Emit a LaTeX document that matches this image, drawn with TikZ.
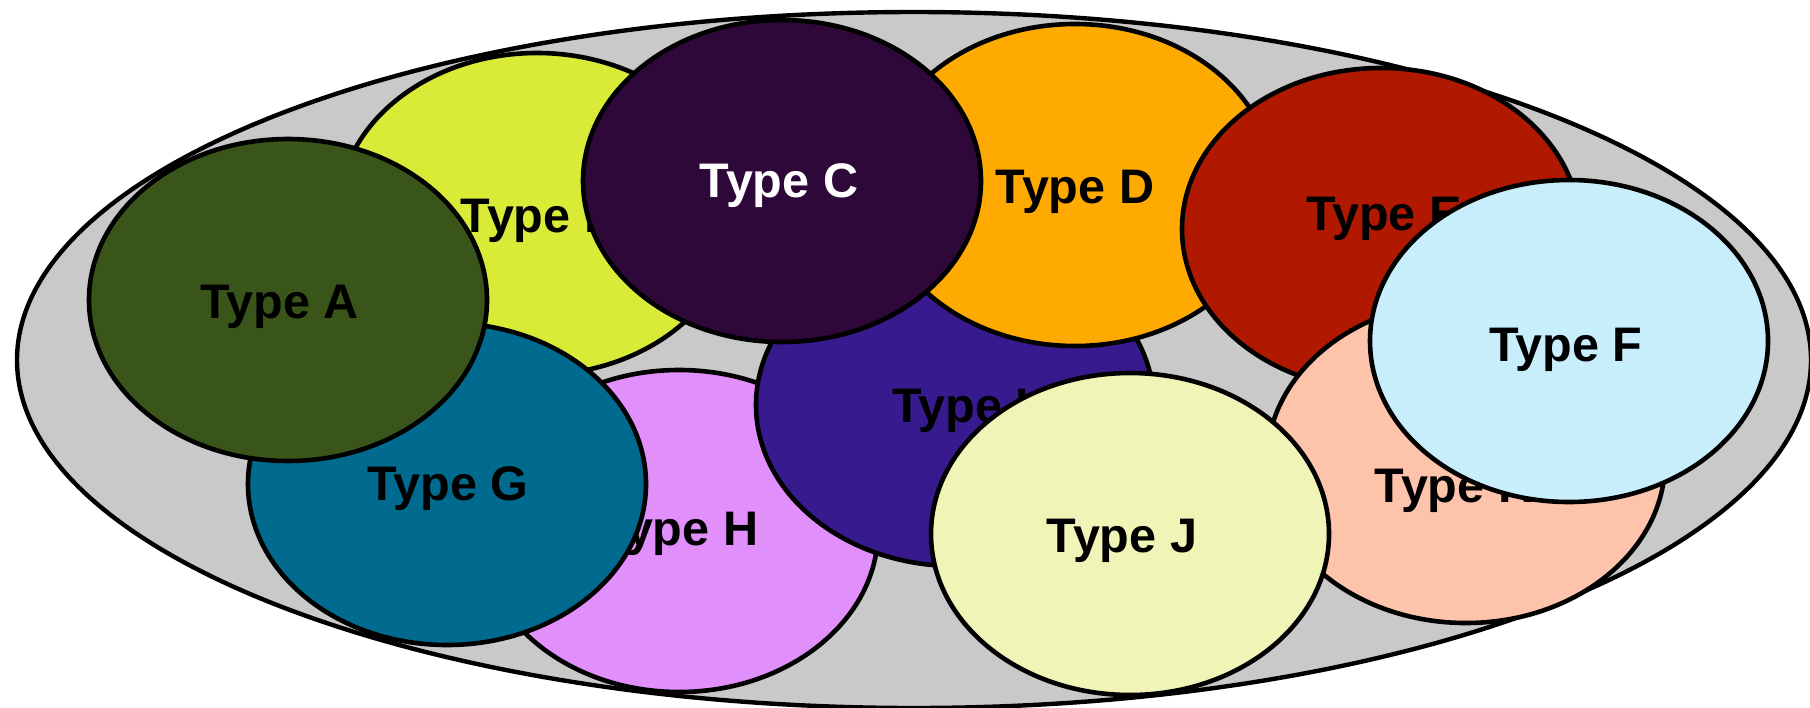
\documentclass[tikz,border=0pt]{standalone}
\usepackage{fontspec}
\setmainfont{Liberation Sans}
\usetikzlibrary{shapes.geometric}

\definecolor{trayfill}{HTML}{C9C9C9}
\definecolor{colA}{HTML}{3A5519}
\definecolor{colB}{HTML}{D9EB37}
\definecolor{colC}{HTML}{2E0838}
\definecolor{colD}{HTML}{FFAA00}
\definecolor{colE}{HTML}{B01900}
\definecolor{colF}{HTML}{C8EEFC}
\definecolor{colG}{HTML}{006B8F}
\definecolor{colH}{HTML}{E18FFA}
\definecolor{colI}{HTML}{371A8E}
\definecolor{colJ}{HTML}{F0F5B7}
\definecolor{colK}{HTML}{FEC3AB}

\tikzset{
  tray/.style={ellipse, draw=black, line width=4.4pt, fill=trayfill,
    minimum width=1794pt, minimum height=696pt, inner sep=0pt},
  bubble/.style={ellipse, draw=black, line width=4.6pt,
    minimum width=398pt, minimum height=322pt, inner sep=0pt},
  lbl/.style={anchor=base, inner sep=0pt, text=black,
    font=\fontsize{48.5}{58}\selectfont\bfseries},
}

\begin{document}
\begin{tikzpicture}[x=1pt,y=-1pt]
  \useasboundingbox (0,0) rectangle (1810,707);

  % outer tray
  \node[tray] (tray) at (914,360) {};

  % bubbles, back to front
  \node[bubble, fill=colH] (h) at (679,531) {};
  \node[lbl] (h-t) at (679,545) {Type H};

  \node[bubble, fill=colB] (b) at (537,214) {};
  \node[lbl] (b-t) at (540,232) {Type B};

  \node[bubble, fill=colG] (g) at (447,484) {};
  \node[lbl] (g-t) at (448,500) {Type G};

  \node[bubble, fill=colA] (a) at (288,300) {};
  \node[lbl] (a-t) at (280,318) {Type A};

  \node[bubble, fill=colI] (i) at (955,405) {};
  \node[lbl] (i-t) at (961,422) {Type I};

  \node[bubble, fill=colD] (d) at (1075,185) {};
  \node[lbl] (d-t) at (1075,203) {Type D};

  \node[bubble, fill=colC] (c) at (782,181) {};
  \node[lbl, text=white] (c-t) at (779,197) {Type C};

  \node[bubble, fill=colE] (e) at (1381,229) {};
  \node[lbl] (e-t) at (1384,230) {Type E};

  \node[bubble, fill=colK] (k) at (1466,462) {};
  \node[lbl] (k-t) at (1454,502) {Type K};

  \node[bubble, fill=colJ] (j) at (1130,534) {};
  \node[lbl] (j-t) at (1122,552) {Type J};

  \node[bubble, fill=colF] (f) at (1569,341) {};
  \node[lbl] (f-t) at (1566,361) {Type F};
\end{tikzpicture}
\end{document}
